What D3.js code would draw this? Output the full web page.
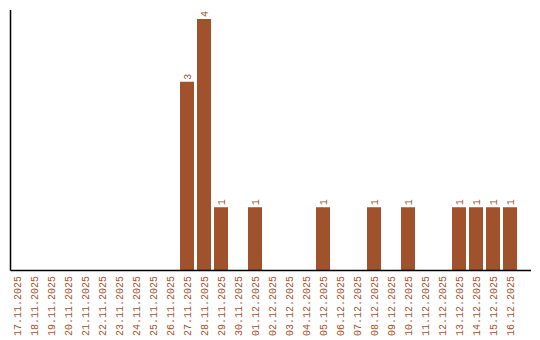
<!DOCTYPE html>
<html>
<head>
<meta charset="utf-8">
<script src="https://cdn.jsdelivr.net/npm/d3@7"></script>
<style>
  html, body { margin: 0; padding: 0; background: #fff; }
  svg { display: block; }
  text { font-family: "Liberation Mono", monospace; font-size: 10px; fill: #A0522D; }
</style>
</head>
<body>
<svg id="chart" width="540" height="340"></svg>
<script>
const dates = ["17.11.2025","18.11.2025","19.11.2025","20.11.2025","21.11.2025","22.11.2025","23.11.2025","24.11.2025","25.11.2025","26.11.2025","27.11.2025","28.11.2025","29.11.2025","30.11.2025","01.12.2025","02.12.2025","03.12.2025","04.12.2025","05.12.2025","06.12.2025","07.12.2025","08.12.2025","09.12.2025","10.12.2025","11.12.2025","12.12.2025","13.12.2025","14.12.2025","15.12.2025","16.12.2025"];
const counts = [0,0,0,0,0,0,0,0,0,0,3,4,1,0,1,0,0,0,1,0,0,1,0,1,0,0,1,1,1,1];

const svg = d3.select("#chart");
const color = "#A0522D";
const baseY = 270, leftX = 10.5, axisEndX = 531, topY = 10;

const x = d3.scaleBand().domain(dates).range([10, 517]).paddingInner(3/17).paddingOuter(0);
const y = d3.scaleLinear().domain([0, 4]).range([baseY, 19]);

const data = dates.map((d, i) => ({date: d, value: counts[i]}));

svg.append("g").selectAll("rect")
  .data(data.filter(d => d.value > 0))
  .join("rect")
  .attr("x", d => x(d.date))
  .attr("y", d => y(d.value))
  .attr("width", x.bandwidth())
  .attr("height", d => baseY - y(d.value))
  .attr("fill", color);

svg.append("g").selectAll("text")
  .data(data.filter(d => d.value > 0))
  .join("text")
  .attr("transform", d => `translate(${x(d.date) + x.bandwidth()/2},${y(d.value) - 2}) rotate(-90)`)
  .attr("dy", "0.35em")
  .attr("text-anchor", "start")
  .text(d => d.value);

// x axis
const xAxis = d3.axisBottom(x).tickSize(0).tickPadding(0);
const gx = svg.append("g").attr("transform", `translate(0,${baseY})`).call(xAxis);
gx.select(".domain").remove();
gx.selectAll("text")
  .attr("transform", "translate(0,6) rotate(-90)")
  .attr("x", 0).attr("y", 0)
  .attr("dy", "0.35em")
  .attr("text-anchor", "end")
  .style("font-family", "Liberation Mono, monospace")
  .style("font-size", "10px")
  .attr("fill", color);

svg.append("line").attr("x1", leftX).attr("x2", axisEndX).attr("y1", baseY + 0.5).attr("y2", baseY + 0.5)
  .attr("stroke", "#000").attr("stroke-width", 1.5);
svg.append("line").attr("x1", leftX).attr("x2", leftX).attr("y1", topY).attr("y2", baseY + 0.5)
  .attr("stroke", "#000").attr("stroke-width", 1.5);
</script>
</body>
</html>
